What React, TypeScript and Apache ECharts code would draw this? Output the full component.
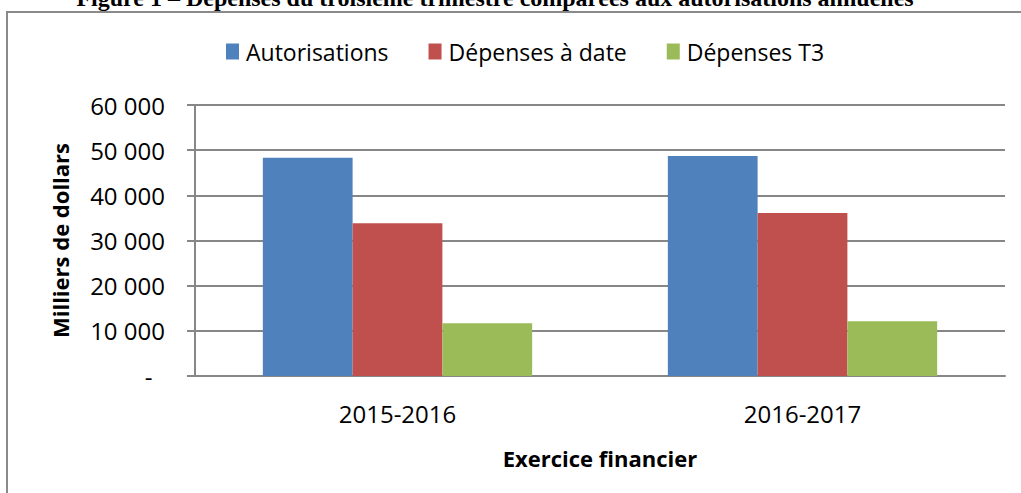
import React, { useEffect, useRef } from "react";
import * as echarts from "echarts";

const categories = ["2015-2016", "2016-2017"];
const seriesNames = ["Autorisations", "Dépenses à date", "Dépenses T3"];
const autorisations = [48300, 48700];
const depensesADate = [33800, 36100];
const depensesT3 = [11700, 12100];
const yTicks = [0, 10000, 20000, 30000, 40000, 50000, 60000];

const colors = ["#4F81BD", "#C0504D", "#9BBB59"];
const FONT = "'Open Sans', 'Noto Sans', sans-serif";

function fmt(v: number): string {
  if (v === 0) return "-\u00A0\u00A0";
  const s = String(Math.round(v));
  return s.replace(/\B(?=(\d{3})+(?!\d))/g, " ");
}

export default function App() {
  const ref = useRef<HTMLDivElement>(null);
  useEffect(() => {
    if (!ref.current) return;
    const chart = echarts.init(ref.current, null, { renderer: "svg" });
    const values = [autorisations, depensesADate, depensesT3];
    chart.setOption({
      animation: false,
      backgroundColor: "#ffffff",
      textStyle: { fontFamily: FONT },
      graphic: [
        {
          type: "rect",
          shape: { x: 7, y: 12, width: 1040, height: 520 },
          style: { fill: "none", stroke: "#8a8a8a", lineWidth: 2 },
          silent: true,
        },
        {
          type: "text",
          x: 495,
          y: -2,
          style: {
            text: "Figure 1 – Dépenses du troisième trimestre comparées aux autorisations annuelles",
            font: "bold 24px 'Liberation Serif', 'Times New Roman', serif",
            fill: "#000",
            align: "center",
            verticalAlign: "middle",
          },
        },
      ],
      legend: {
        data: seriesNames,
        left: 221,
        top: 35,
        itemWidth: 13,
        itemHeight: 16,
        itemGap: 40,
        icon: "rect",
        textStyle: { fontSize: 23, color: "#000", fontFamily: FONT, padding: [0, 0, 0, 2] },
      },
      grid: { left: 195, right: 16, top: 105, bottom: 117, containLabel: false },
      xAxis: {
        type: "category",
        data: categories,
        name: "Exercice financier",
        nameLocation: "middle",
        nameGap: 71,
        nameTextStyle: { fontSize: 22, fontWeight: "bold", color: "#000", fontFamily: FONT },
        axisLine: { lineStyle: { color: "#878787", width: 2 } },
        axisTick: { show: false },
        axisLabel: { fontSize: 24, color: "#000", margin: 25, fontFamily: FONT },
      },
      yAxis: {
        type: "value",
        min: 0,
        max: 60000,
        interval: 10000,
        name: "Milliers de dollars",
        nameLocation: "middle",
        nameGap: 124,
        nameRotate: 90,
        nameTextStyle: { fontSize: 22, fontWeight: "bold", color: "#000", fontFamily: FONT },
        axisLine: { show: true, lineStyle: { color: "#878787", width: 2 } },
        axisTick: { show: true, length: 8, lineStyle: { color: "#878787", width: 2 } },
        splitLine: { lineStyle: { color: "#878787", width: 2 } },
        axisLabel: {
          fontSize: 24,
          color: "#000",
          margin: 30,
          fontFamily: FONT,
          formatter: (v: number) => (yTicks.includes(v) ? fmt(v) : ""),
        },
      },
      series: seriesNames.map((n, i) => ({
        name: n,
        type: "bar",
        data: values[i],
        barGap: "0%",
        barCategoryGap: "33.5%",
        itemStyle: { color: colors[i] },
      })),
    });
    return () => chart.dispose();
  }, []);
  return (
    <div
      ref={ref}
      style={{ position: "fixed", left: 0, top: 0, width: 1021, height: 493 }}
    />
  );
}
